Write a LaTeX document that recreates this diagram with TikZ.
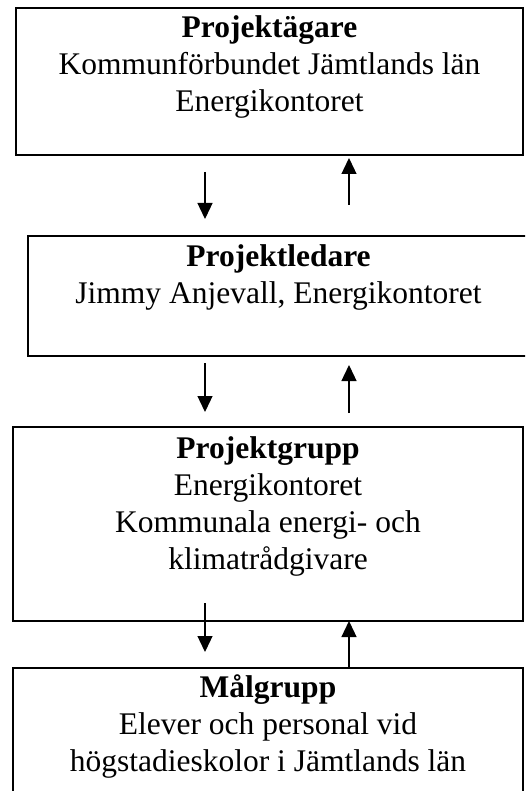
\documentclass[tikz,border=0pt]{standalone}
\usepackage{fontspec}
\setmainfont{Liberation Serif}
\usetikzlibrary{arrows.meta}
\begin{document}
\begin{tikzpicture}[x=1pt,y=-1pt,
  box/.style={draw, line width=1.8pt, rectangle, anchor=north west, inner sep=0pt, outer sep=0pt},
  txt/.style={align=center, anchor=base, inner sep=0pt, font=\fontsize{31.5}{37}\selectfont},
  arr/.style={-{Triangle[width=15pt,length=16pt]}, line width=1.3pt}]
\useasboundingbox (0,0) rectangle (525,791);
\begin{scope}
\clip (0,0) rectangle (525,791);
\node[box, minimum width=507pt, minimum height=147pt] (b1) at (16,8) {};
\node[box, minimum width=501pt, minimum height=120pt] (b2) at (28,236) {};
\node[box, minimum width=510pt, minimum height=194pt] (b3) at (13,427) {};
\node[box, minimum width=510pt, minimum height=140pt] (b4) at (13,668) {};

% anchor=base of a multi-line node is the baseline of its last line
\node[txt] (t1) at (269.5,112) {\textbf{Projektägare}\\Kommunförbundet Jämtlands län\\Energikontoret};
\node[txt] (t2) at (278.5,303) {\textbf{Projektledare}\\Jimmy Anjevall, Energikontoret};
\node[txt] (t3) at (268,569) {\textbf{Projektgrupp}\\Energikontoret\\Kommunala energi- och\\klimatrådgivare};
\node[txt] (t4) at (268,771) {\textbf{Målgrupp}\\Elever och personal vid\\högstadieskolor i Jämtlands län};

\coordinate (d1s) at (205,172); \coordinate (d1e) at (205,219);
\coordinate (u1s) at (349,205); \coordinate (u1e) at (349,158);
\coordinate (d2s) at (205,363); \coordinate (d2e) at (205,412);
\coordinate (u2s) at (349,413); \coordinate (u2e) at (349,365);
\coordinate (d3s) at (205,603); \coordinate (d3e) at (205,652);
\coordinate (u3) at (349,640);

\draw[arr] (d1s) -- (d1e);
\draw[arr] (u1s) -- (u1e);
\draw[arr] (d2s) -- (d2e);
\draw[arr] (u2s) -- (u2e);
\draw[arr] (d3s) -- (d3e);
\draw[arr] (u3 |- b4.north) -- (u3 |- b3.south);
\end{scope}
\end{tikzpicture}
\end{document}
